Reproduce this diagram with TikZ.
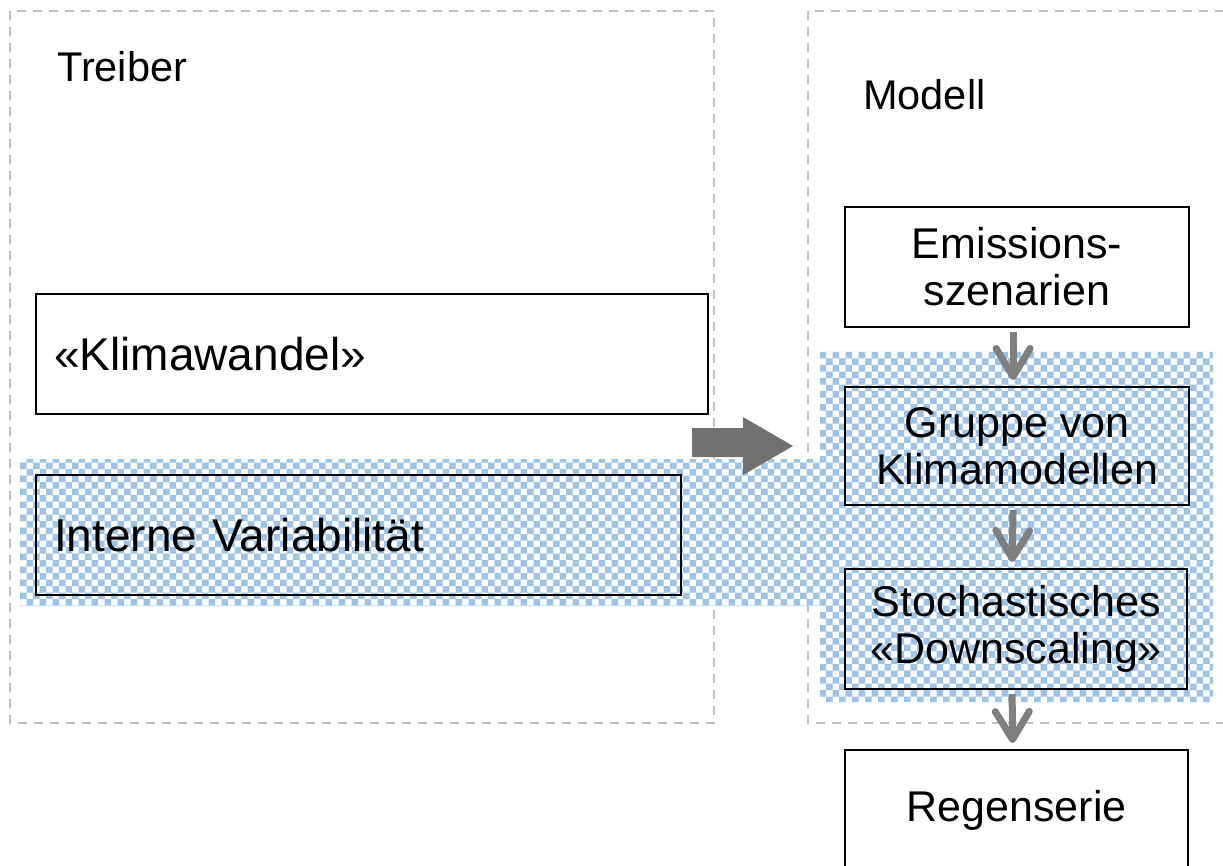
\documentclass[tikz,border=0pt]{standalone}
\usepackage{fontspec}
\setmainfont{Liberation Sans}
\usetikzlibrary{arrows.meta}

\definecolor{panelgray}{HTML}{C0C0C0}
\definecolor{checkblue}{HTML}{9DC3E6}
\definecolor{blockgray}{HTML}{737070}
\definecolor{flowgray}{HTML}{7F7F7F}

\tikzset{
  panel/.style={draw=panelgray, line width=1.6pt, dash pattern=on 9pt off 7pt},
  box/.style={draw=black, line width=2.2pt, rectangle, inner sep=0pt},
  leftbox/.style={box, anchor=north west, minimum height=120pt, align=left,
    inner xsep=18pt, font=\fontsize{46}{50}\selectfont},
  rightbox/.style={box, anchor=north west, minimum width=344pt, minimum height=120pt,
    align=center, font=\fontsize{43}{47}\selectfont},
  title/.style={anchor=base west, inner sep=0pt, font=\fontsize{41.5}{45}\selectfont},
  flow/.style={draw=flowgray, line width=7pt,
    -{Straight Barb[length=28pt,width=34pt,round]},
    shorten <=4pt, shorten >=6pt},
}

% outline of the shaded region (internal variability band + model chain)
\def\shadedregion{(20,459) -- (820,459) -- (820,352) -- (1213,352) -- (1213,702)
    -- (820,702) -- (820,606) -- (20,606) -- cycle}

\begin{document}
\begin{tikzpicture}[x=1pt, y=-1pt]
  \useasboundingbox (0,0) rectangle (1223,866);

  % dashed frames of the two panels
  \draw[panel] (10,11) rectangle (714,723);
  \draw[panel] (808,11) rectangle (1240,723);

  % shaded region: white ground with a blue checkerboard
  % (vertical and horizontal stripes filled with the even-odd rule)
  \fill[white] \shadedregion;
  \begin{scope}
    \clip \shadedregion;
    \fill[checkblue, even odd rule]
      \foreach \i in {0,...,92} {(20+\i*13,352) rectangle (26.5+\i*13,702)}
      \foreach \j in {0,...,27} {(20,352+\j*13) rectangle (1213,358.5+\j*13)};
  \end{scope}

  % panel titles
  \node[title] (treiber) at (57,82) {Treiber};
  \node[title] (modell) at (863,110) {Modell};

  % driver boxes
  \node[leftbox, text width=636pt] (klima) at (35,293) {«Klimawandel»};
  \node[leftbox, text width=609pt] (intern) at (35,474) {Interne Variabilität};

  % model chain
  \node[rightbox] (emis) at (844,206) {Emissions-\\szenarien};
  \node[rightbox, minimum height=118pt] (gruppe) at (844,386) {Gruppe von\\Klimamodellen};
  \node[rightbox, minimum width=342pt] (stoch) at (844,568) {Stochastisches\\«Downscaling»};
  \node[rightbox, minimum width=343pt] (regen) at (844,749) {Regenserie};

  % block arrow from the drivers to the model
  \fill[blockgray] (692,428) -- (743,428) -- (743,417) -- (793,446) -- (743,475)
    -- (743,457) -- (692,457) -- cycle;

  % flow arrows along the model chain
  \draw[flow] ([xshift=-4pt]emis.south) -- ([xshift=-4pt]gruppe.north);
  \draw[flow] ([xshift=-4pt]gruppe.south) -- ([xshift=-4pt]stoch.north);
  \draw[flow] ([xshift=-4pt]stoch.south) -- ([xshift=-4pt]regen.north);
\end{tikzpicture}
\end{document}
